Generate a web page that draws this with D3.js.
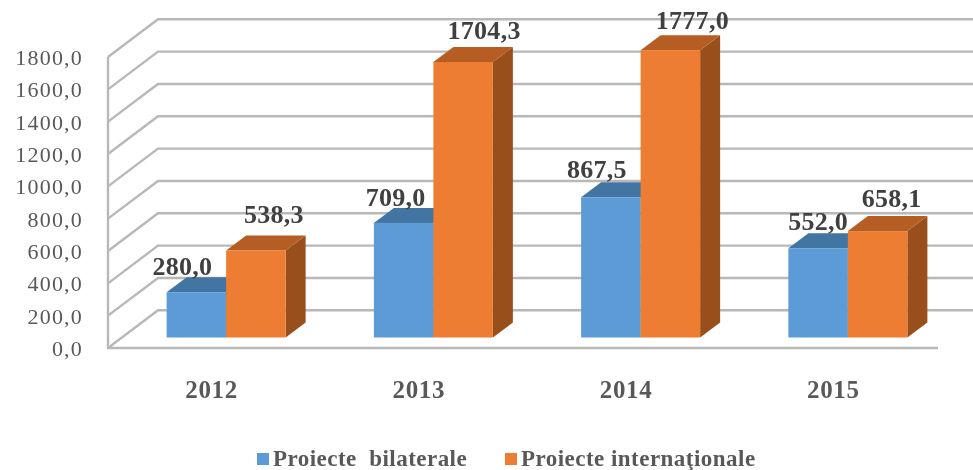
<!DOCTYPE html>
<html>
<head>
<meta charset="utf-8">
<script src="https://cdn.jsdelivr.net/npm/d3@7"></script>
<style>
    html, body { margin: 0; padding: 0; background: #fff; overflow: hidden; }
    text { font-family: "Liberation Serif", serif; }
</style>
</head>
<body>
<svg id="chart" width="973" height="470"></svg>
<script>
const years = ['2012', '2013', '2014', '2015'];
const bilaterale = [280.0, 709.0, 867.5, 552.0];
const internationale = [538.3, 1704.3, 1777.0, 658.1];
const seriesNames = ['Proiecte  bilaterale', 'Proiecte internaţionale'];
const yTicks = [0, 200, 400, 600, 800, 1000, 1200, 1400, 1600, 1800];
// 标签手动偏移 [dx, dy]
const bilateraleLabelShift = [[-14, -17], [-8, -17], [-14, -19], [0, -18]];
const internationaleLabelShift = [[18, -27], [21, -23], [22, -21], [14, -24]];

const fmt = (v) => v.toFixed(1).replace('.', ',');

const root = d3.select('#chart');
root.append('defs').append('filter').attr('id', 'soft')
    .attr('x', 0).attr('y', 0).attr('width', 1).attr('height', 1)
    .append('feGaussianBlur').attr('stdDeviation', 0.5);
const svg = root.append('g').attr('filter', 'url(#soft)');
svg.append('rect').attr('width', 973).attr('height', 470).attr('fill', '#fff');

const wallX = 108, wallDx = 50, wallDy = -37.7;
const barDx = 20, barDy = -15, barShiftX = 14.5, barW = 59.5, barLift = 10.5;

const x = d3.scaleBand().domain(years).range([108, 937]);
const y = d3.scaleLinear().domain([0, 1800]).range([348, 57]);
const cx = (d) => x(d) + x.bandwidth() / 2;

// 网格线
const grid = svg.append('g').attr('fill', 'none').attr('stroke', '#b8b8b8').attr('stroke-width', 2.4);
grid.selectAll('path').data(yTicks).join('path')
    .attr('d', (d) => `M${wallX},${y(d)}L${wallX + wallDx},${y(d) + wallDy}L973,${y(d) + wallDy}`);
grid.append('path').attr('d', `M${wallX},${y(1800)}V${y(0)}H938`);

// 纵轴文字
svg.append('g').selectAll('text').data(yTicks).join('text')
    .attr('x', 83).attr('y', (d) => y(d) + 8)
    .attr('text-anchor', 'end')
    .attr('font-size', 22).attr('letter-spacing', 1.2)
    .attr('fill', '#595959')
    .text(fmt);

// 横轴文字
svg.append('g').selectAll('text').data(years).join('text')
    .attr('x', cx).attr('y', 398)
    .attr('text-anchor', 'middle')
    .attr('font-size', 25).attr('font-weight', 'bold').attr('letter-spacing', 0.7)
    .attr('fill', '#595959')
    .text((d) => d);

// 绘制一组 3D 柱子
const drawBars = (values, offset, front, top, side, shifts) => {
    const g = svg.append('g');
    years.forEach((year, i) => {
        const left = cx(year) + barShiftX + offset * barW - barW;
        const right = left + barW;
        const base = y(0) - barLift;
        const h = y(0) - y(values[i]);
        const t = base - h;
        g.append('path').attr('fill', side)
            .attr('d', `M${right},${t}L${right + barDx},${t + barDy}V${base + barDy}L${right},${base}z`);
        g.append('path').attr('fill', top)
            .attr('d', `M${left},${t}L${left + barDx},${t + barDy}H${right + barDx}L${right},${t}z`);
        g.append('rect').attr('fill', front)
            .attr('x', left).attr('y', t).attr('width', barW).attr('height', h);
        svg.append('text')
            .attr('class', 'value')
            .attr('x', left + barW / 2 + shifts[i][0]).attr('y', t + shifts[i][1])
            .attr('text-anchor', 'middle')
            .attr('font-size', 26).attr('font-weight', 'bold').attr('letter-spacing', 0.3)
            .attr('fill', '#404040')
            .text(fmt(values[i]));
    });
};
drawBars(bilaterale, 0, '#5b9bd5', '#4375a1', '#3f6f9b', bilateraleLabelShift);
drawBars(internationale, 1, '#ed7d31', '#b55d22', '#984f1b', internationaleLabelShift);
svg.selectAll('text.value').raise();

// 图例
const legend = svg.append('g');
[[257, 273, '#5b9bd5'], [505, 521, '#ed7d31']].forEach((l, i) => {
    legend.append('rect').attr('x', l[0]).attr('y', 453).attr('width', 12).attr('height', 12).attr('fill', l[2]);
    legend.append('text').attr('x', l[1]).attr('y', 466)
        .attr('font-size', 23).attr('font-weight', 'bold').attr('letter-spacing', 0.47)
        .attr('xml:space', 'preserve').style('white-space', 'pre')
        .attr('fill', '#595959')
        .text(seriesNames[i]);
});
</script>
</body>
</html>
